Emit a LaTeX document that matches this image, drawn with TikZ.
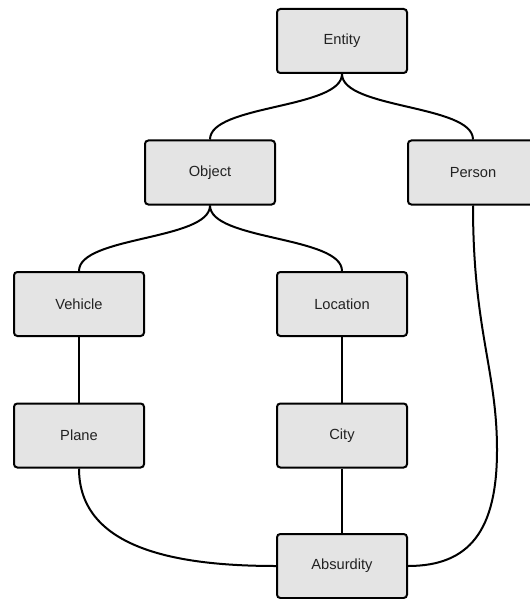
\documentclass[tikz,border=0pt]{standalone}
\usepackage{fontspec}
\setmainfont{Liberation Sans}
\definecolor{boxfill}{HTML}{E4E4E4}
\definecolor{txt}{HTML}{222222}
\begin{document}
\begin{tikzpicture}[x=0.75pt,y=-0.75pt,
  box/.style={draw=black, line width=1.5pt, fill=boxfill, rounded corners=2.5pt,
    minimum width=97.5pt, minimum height=48pt, inner sep=0pt,
    font=\fontsize{11}{13}\selectfont, text=txt},
  link/.style={draw=black, line width=1.5pt}]
\clip (0,0) rectangle (530,599);
\useasboundingbox (0,0) rectangle (530,599);
\node[box] (entity) at (342,41) {Entity};
\node[box] (object) at (210,172.5) {Object};
\node[box] (person) at (473,172.5) {Person};
\node[box] (vehicle) at (79,304) {Vehicle};
\node[box] (location) at (342,304) {Location};
\node[box] (plane) at (79,435.5) {Plane};
\node[box] (city) at (342,435.5) {City};
\node[box] (absurd) at (342,566) {Absurdity};
\draw[link] (entity.south) .. controls +(0,35) and +(0,-35) .. (object.north);
\draw[link] (entity.south) .. controls +(0,35) and +(0,-35) .. (person.north);
\draw[link] (object.south) .. controls +(0,35) and +(0,-35) .. (vehicle.north);
\draw[link] (object.south) .. controls +(0,35) and +(0,-35) .. (location.north);
\draw[link] (vehicle.south) -- (plane.north);
\draw[link] (location.south) -- (city.north);
\draw[link] (city.south) -- (absurd.north);
\draw[link] (plane.south) .. controls (79,550) and (180,566) .. (absurd.west);
\draw[link] (person.south) .. controls (473,330) and (497,370) .. (497,450)
  .. controls (497,530) and (470,566) .. (absurd.east);
\end{tikzpicture}
\end{document}
